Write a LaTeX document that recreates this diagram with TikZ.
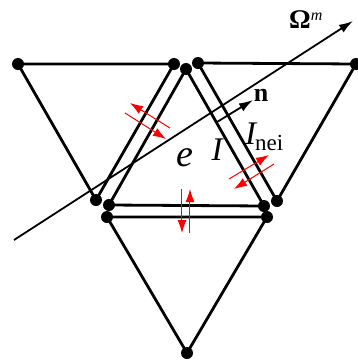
\documentclass[tikz,border=0pt]{standalone}
\usepackage{fontspec}
\setmainfont{Liberation Serif}
\usetikzlibrary{arrows.meta}
\tikzset{
  dot/.style={circle,fill=black,inner sep=0pt,minimum size=12pt},
  edge/.style={line width=2.8pt,black},
  ray/.style={line width=1.8pt,black,-{Latex[length=14pt,width=9pt]}},
  flux/.style={line width=1pt,red,-{Latex[length=13pt,width=9pt]}},
  lab/.style={inner sep=0pt,text=black}
}
\begin{document}
\begin{tikzpicture}[x=1pt,y=-1pt]
\useasboundingbox (0,0) rectangle (358,360);
% left triangle
\node[dot] (a1) at (18,64) {};
\node[dot] (a2) at (174,64) {};
\node[dot] (a3) at (96,200) {};
% centre triangle
\node[dot] (b1) at (186,69) {};
\node[dot] (b2) at (109,205) {};
\node[dot] (b3) at (264,206) {};
% right triangle
\node[dot] (c1) at (198,63) {};
\node[dot] (c2) at (356,64) {};
\node[dot] (c3) at (277,201) {};
% bottom triangle
\node[dot] (d1) at (107,217) {};
\node[dot] (d2) at (267,217) {};
\node[dot] (d3) at (187,353) {};
\draw[edge] (a1.center) -- (a2.center) -- (a3.center) -- cycle;
\draw[edge] (b1.center) -- (b2.center) -- (b3.center) -- cycle;
\draw[edge] (c1.center) -- (c2.center) -- (c3.center) -- cycle;
\draw[edge] (d1.center) -- (d2.center) -- (d3.center) -- cycle;
% rays
\coordinate (rs) at (14,240);
\coordinate (rt) at (353,21);
\draw[ray] (rs) -- (rt);
\coordinate (ns) at (217,122);
\coordinate (nt) at (253,100);
\draw[ray] (ns) -- (nt);
% red flux arrows
\coordinate (f1s) at (170,128); \coordinate (f1t) at (130,103);
\coordinate (f2s) at (125,113); \coordinate (f2t) at (166,139);
\coordinate (f3s) at (229,179); \coordinate (f3t) at (269,155);
\coordinate (f4s) at (274,164); \coordinate (f4t) at (234,189);
\coordinate (f5s) at (182,189); \coordinate (f5t) at (182,233);
\coordinate (f6s) at (190,233); \coordinate (f6t) at (190,189);
\draw[flux] (f1s) -- (f1t);
\draw[flux] (f2s) -- (f2t);
\draw[flux] (f3s) -- (f3t);
\draw[flux] (f4s) -- (f4t);
\draw[flux] (f5s) -- (f5t);
\draw[flux] (f6s) -- (f6t);
% labels
\node[lab,font=\fontsize{26pt}{26pt}\selectfont\bfseries] (n) at (261,95) {n};
\node[lab,anchor=base west] (om) at (289,28) {\fontsize{27pt}{27pt}\selectfont\bfseries Ω\raisebox{8pt}{\fontsize{16pt}{16pt}\selectfont\mdseries\itshape m}};
\node[lab,anchor=base west] (inei) at (245,144) {\fontsize{33pt}{33pt}\selectfont\itshape I\hspace{-1pt}\raisebox{-6pt}{\fontsize{23pt}{23pt}\selectfont\upshape nei}};
\node[lab,anchor=base,font=\fontsize{33pt}{33pt}\selectfont\itshape] (i) at (217,160) {I};
\node[lab,anchor=base,font=\fontsize{38pt}{38pt}\selectfont\itshape] (e) at (185,166) {e};
\end{tikzpicture}
\end{document}
